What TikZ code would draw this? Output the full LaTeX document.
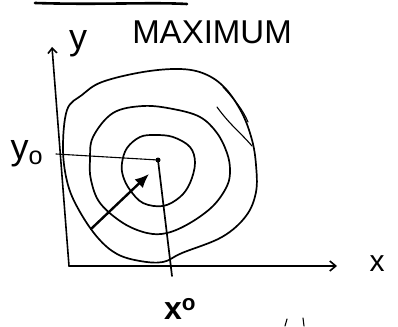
\documentclass[tikz,border=0pt]{standalone}
\usepackage{fontspec}
\setmainfont{Liberation Sans}
\usetikzlibrary{arrows.meta}
\begin{document}
\begin{tikzpicture}[x=1pt,y=-1pt, line cap=round, line join=round,
  pen/.style={line width=1.7pt},
  thinpen/.style={line width=1.1pt},
  axispen/.style={line width=1.6pt},
  lbl/.style={inner sep=0pt, anchor=center},
]
\useasboundingbox (0,0) rectangle (398,326);
% top rule
\draw[line width=2.6pt] (35,3) .. controls (100,5) and (150,2) .. (187,4);
% labels
\node[lbl, font=\fontsize{36}{36}\selectfont] (ylab) at (78,44) {y};
\node[lbl, font=\fontsize{33}{33}\selectfont] (maxlab) at (212,32) {MAXIMUM};
\node[lbl, font=\fontsize{36}{36}\selectfont] (y0lab) at (27,154) {y\textsubscript{o}};
\node[lbl, font=\fontsize{30}{30}\selectfont] (xlab) at (377,264) {x};
\node[lbl, font=\fontsize{32}{32}\selectfont\bfseries] (x0lab) at (180,309) {x\textsuperscript{o}};
% axes
\coordinate (O) at (69,266);
\coordinate (Ytop) at (52,47);
\coordinate (Xend) at (337,266);
\draw[axispen, -{Straight Barb[length=5pt,width=9pt]}] (O) -- (Ytop);
\draw[axispen, -{Straight Barb[length=6pt,width=10pt]}] (O) -- (Xend);
% contours
\draw[pen] plot[smooth cycle, tension=0.6] coordinates {
  (63,150) (67,110) (82,95) (102,82) (143,72) (180,69) (205,74) (225,88)
  (242,113) (252,140) (256,165) (256,192) (246,216) (222,237) (182,253)
  (163,262) (140,261) (117,254) (98,238) (80,212) (68,185)};
\draw[pen] plot[smooth cycle, tension=0.6] coordinates {
  (93,137) (113,113) (143,106) (173,109) (200,117) (217,133) (227,153)
  (230,170) (227,186) (213,206) (190,223) (167,233) (147,233) (123,223)
  (100,203) (91,180) (90,160)};
\draw[pen] plot[smooth cycle, tension=0.6] coordinates {
  (122,163) (127,148) (140,137) (155,135) (173,137) (190,147) (195,163)
  (190,183) (180,197) (163,206) (143,203) (130,190) (123,176)};
% sketchy overstrokes
\draw[thinpen] (217,107) .. controls (230,125) and (240,132) .. (252,146);
\draw[thinpen] (223,87) .. controls (235,100) and (243,110) .. (248,122);
% center and guide lines
\coordinate (C) at (158,160);
\coordinate (Ly) at (56,154);
\coordinate (Bx) at (172,276);
\fill (C) circle (2.5pt);
\draw[thinpen] (Ly) -- (C);
\draw[pen] (C) -- (Bx);
% arrow to the maximum
\coordinate (At) at (91,229);
\coordinate (Ah) at (149,174);
\draw[line width=2.4pt, -{Latex[length=14pt,width=12pt]}] (At) -- (Ah);
% cropped strokes at bottom edge
\draw[thinpen] (287,319) -- (285,326);
\draw[thinpen] (303,318) -- (304,326);
\end{tikzpicture}
\end{document}
